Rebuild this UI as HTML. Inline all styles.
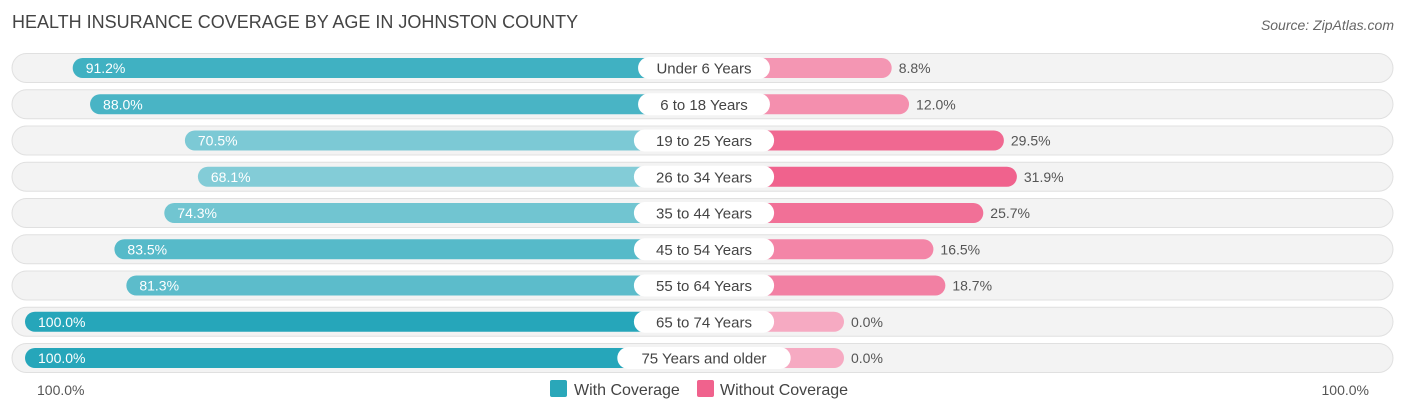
<!DOCTYPE html>
<html><head><meta charset="utf-8"><style>
body{margin:0;background:#fff;font-family:"Liberation Sans",sans-serif;}
svg{display:block}
</style></head><body>
<svg id="chart" width="1406" height="414">
<text x="12" y="28" font-size="18" fill="#444">HEALTH INSURANCE COVERAGE BY AGE IN JOHNSTON COUNTY</text>
<text x="1394" y="30" font-size="14" fill="#666" font-style="italic" text-anchor="end">Source: ZipAtlas.com</text>
<g id="rows"></g>
<text x="37" y="395" font-size="14" fill="#555">100.0%</text>
<text x="1369" y="395" font-size="14" fill="#555" text-anchor="end">100.0%</text>
<rect x="550" y="380" width="17" height="17" rx="2" fill="#2aa7b9"/>
<text x="574" y="395" font-size="16" fill="#444">With Coverage</text>
<rect x="697" y="380" width="17" height="17" rx="2" fill="#f0628d"/>
<text x="720" y="395" font-size="16" fill="#444">Without Coverage</text>
</svg>
<script>
const categories=["Under 6 Years","6 to 18 Years","19 to 25 Years","26 to 34 Years","35 to 44 Years","45 to 54 Years","55 to 64 Years","65 to 74 Years","75 Years and older"];
const withCoverage=[91.2,88.0,70.5,68.1,74.3,83.5,81.3,100.0,100.0];
const withoutCoverage=[8.8,12.0,29.5,31.9,25.7,16.5,18.7,0.0,0.0];
const NS="http://www.w3.org/2000/svg";
const g=document.getElementById('rows');
const scale=5.42, leftZero=567, rightZero=844, y0=68, dy=36.25;
function xl(v){return leftZero-v*scale;}
function xr(v){return rightZero+v*scale;}
function mix(a,b,t){return 'rgb('+a.map((c,i)=>Math.round(c+(b[i]-c)*t)).join(',')+')';}
function mk(tag,attrs){const e=document.createElementNS(NS,tag);for(const k in attrs)e.setAttribute(k,attrs[k]);return e;}
categories.forEach((cat,i)=>{
  const cy=y0+i*dy;
  const bg=mk('rect',{x:12,y:cy-14.5,width:1381,height:29,rx:14.5,fill:'#f3f3f3',stroke:'#e0e0e0'});
  
  
  g.appendChild(bg);
  const w=withCoverage[i], wo=withoutCoverage[i];
  const tl=Math.max(0,Math.min(1,(w-65)/35));
  const lb=mk('rect',{x:xl(w),y:cy-10,width:705-xl(w),height:20,rx:10,fill:mix([140,208,218],[38,166,186],tl)});
  
  
  g.appendChild(lb);
  const tr=Math.max(0,Math.min(1,wo/32));
  const rb=mk('rect',{x:700,y:cy-10,width:xr(wo)-700,height:20,rx:10,fill:mix([246,170,194],[240,98,141],tr)});
  
  
  g.appendChild(rb);
  const lt=mk('text',{x:xl(w)+13,y:cy+5,'font-size':14,fill:'#fff'});
  lt.textContent=w.toFixed(1)+'%';
  
  
  g.appendChild(lt);
  const rt=mk('text',{x:xr(wo)+7,y:cy+5,'font-size':14,fill:'#555'});
  rt.textContent=wo.toFixed(1)+'%';
  
  
  g.appendChild(rt);
  const pw=cat.length*8.3+24;
  const pill=mk('rect',{x:704-pw/2,y:cy-11,width:pw,height:22,rx:11,fill:'#fff'});
  
  
  g.appendChild(pill);
  const ct=mk('text',{x:704,y:cy+5.5,'font-size':15,fill:'#444','text-anchor':'middle'});
  ct.textContent=cat;
  
  
  g.appendChild(ct);
});
</script>
</body></html>
